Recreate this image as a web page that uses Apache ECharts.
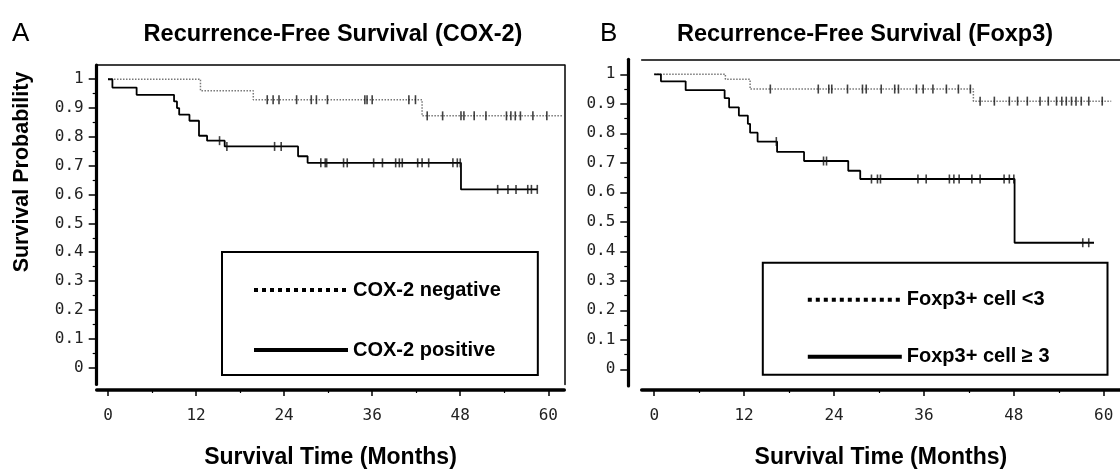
<!DOCTYPE html>
<html>
<head>
<meta charset="utf-8">
<script src="https://cdn.jsdelivr.net/npm/echarts@6/dist/echarts.min.js"></script>
<style>
  html, body { margin: 0; padding: 0; background: #fff; }
  #main { width: 1120px; height: 474px; }
</style>
</head>
<body>
<div id="main"></div>
<script>
// axis ticks (months / probability)
var xTicks = [0, 12, 24, 36, 48, 60];
var xMinorTicks = [6, 18, 30, 42, 54];
var yTicks = [0, 0.1, 0.2, 0.3, 0.4, 0.5, 0.6, 0.7, 0.8, 0.9, 1];
var yTickLabels = ['0', '0.1', '0.2', '0.3', '0.4', '0.5', '0.6', '0.7', '0.8', '0.9', '1'];
var yMinorTicks = [0.05, 0.15, 0.25, 0.35, 0.45, 0.55, 0.65, 0.75, 0.85, 0.95];

// A: COX-2
var coxNegTime = [0, 12.6, 19.8, 42.8, 61.9];
var coxNegSurv = [1, 0.96, 0.929, 0.873, 0.873];
var coxNegCensor = [21.7, 22.5, 23.3, 25.7, 27.7, 28.4, 29.9, 35.0, 35.3, 36.0, 41.0, 41.9,
  43.5, 45.6, 48.1, 48.5, 49.9, 51.5, 54.3, 54.9, 55.5, 56.2, 57.9, 59.8];

var coxPosTime = [0, 0.6, 3.9, 9.0, 9.4, 9.7, 11.1, 12.4, 13.5, 15.9, 25.9, 27.2, 48.1, 58.5];
var coxPosSurv = [1, 0.971, 0.946, 0.923, 0.9, 0.877, 0.856, 0.804, 0.787, 0.767, 0.733, 0.71, 0.618, 0.618];
var coxPosCensor = [15.2, 16.2, 22.7, 23.6, 29.0, 29.6, 29.8, 32.1, 32.6, 36.2, 37.4, 39.2, 39.7, 40.1,
  42.2, 42.8, 43.7, 47.0, 47.6, 48.0, 53.1, 54.5, 55.6, 57.2, 57.7, 58.5];

// B: Foxp3
var foxLowTime = [0, 9.5, 12.8, 42.6, 61];
var foxLowSurv = [1, 0.983, 0.95, 0.909, 0.909];
var foxLowCensor = [15.5, 21.9, 23.3, 23.7, 25.8, 27.8, 28.3, 30.3, 32.1, 32.6, 35.0, 35.9, 37.2, 39.0,
  40.6, 42.2, 43.5, 45.4, 47.4, 48.5, 49.8, 51.5, 52.6, 53.7, 54.4, 55.0, 55.7, 56.3, 57.0, 58.0, 59.8];

var foxHighTime = [0, 0.9, 4.2, 9.4, 10.0, 11.3, 12.5, 12.8, 13.8, 16.4, 20.0, 25.9, 27.5, 48.1, 58.7];
var foxHighSurv = [1, 0.976, 0.946, 0.919, 0.888, 0.86, 0.832, 0.802, 0.772, 0.737, 0.706, 0.673, 0.645, 0.429, 0.429];
var foxHighCensor = [16.3, 22.6, 23.0, 29.0, 29.8, 30.2, 35.2, 36.3, 39.4, 40.0, 40.7, 42.4, 43.5,
  46.7, 47.4, 48.0, 57.2, 58.0];

var legendA = ['COX-2 negative', 'COX-2 positive'];
var legendB = ['Foxp3+ cell <3', 'Foxp3+ cell \u2265 3'];

var sansFont = 'Liberation Sans, Arial, sans-serif';
var monoFont = 'DejaVu Sans Mono, monospace';

function stepData(times, survs) {
  return times.map(function (t, i) { return [t, survs[i]]; });
}
function survAt(times, survs, t) {
  var s = survs[0];
  for (var i = 0; i < times.length; i++) {
    if (times[i] <= t) s = survs[i];
  }
  return s;
}
function censorData(times, survs, censor) {
  return censor.map(function (t) { return [t, survAt(times, survs, t)]; });
}

function curve(name, gi, times, survs, dotted) {
  return {
    name: name,
    type: 'line',
    step: 'end',
    xAxisIndex: gi * 3,
    yAxisIndex: gi * 3,
    symbol: 'none',
    data: stepData(times, survs),
    lineStyle: dotted ? { color: '#777', width: 1.5, type: 'dotted' } : { color: '#000', width: 1.8 },
    itemStyle: { color: '#000' },
    z: 3
  };
}
function marks(gi, times, survs, censor) {
  return {
    type: 'scatter',
    xAxisIndex: gi * 3,
    yAxisIndex: gi * 3,
    symbol: 'rect',
    symbolSize: [1.6, 9],
    itemStyle: { color: '#111' },
    data: censorData(times, survs, censor),
    z: 4
  };
}

function xAxes(gi, min, max, offset) {
  return [
    {
      gridIndex: gi, type: 'value', position: 'bottom', min: min, max: max, offset: offset,
      name: 'Survival Time (Months)', nameLocation: 'middle', nameGap: 56,
      nameTextStyle: { fontFamily: sansFont, fontWeight: 'bold', fontSize: 23, color: '#000' },
      axisLine: { show: true, onZero: false, lineStyle: { color: '#000', width: 3.5 } },
      axisTick: { show: true, customValues: xTicks, length: 6, lineStyle: { color: '#000', width: 1.5 } },
      axisLabel: { show: true, customValues: xTicks, margin: 18, fontFamily: monoFont, fontSize: 16, color: '#222' },
      splitLine: { show: false }
    },
    {
      gridIndex: gi, type: 'value', position: 'bottom', min: min, max: max, offset: offset,
      axisLine: { show: false, onZero: false },
      axisTick: { show: true, customValues: xMinorTicks, length: 3, lineStyle: { color: '#000', width: 1.2 } },
      axisLabel: { show: false },
      splitLine: { show: false }
    },
    {
      gridIndex: gi, type: 'value', position: 'top', min: min, max: max,
      axisLine: { show: true, onZero: false, lineStyle: { color: '#000', width: 1.5 } },
      axisTick: { show: false }, axisLabel: { show: false }, splitLine: { show: false }
    }
  ];
}
function yAxes(gi, min, max, offset, rightBorder) {
  return [
    {
      gridIndex: gi, type: 'value', position: 'left', min: min, max: max, offset: offset,
      axisLine: { show: true, onZero: false, lineStyle: { color: '#000', width: 3.2 } },
      axisTick: { show: true, customValues: yTicks, length: 8, lineStyle: { color: '#000', width: 1.5 } },
      axisLabel: {
        show: true, customValues: yTicks, margin: 13, fontFamily: monoFont, fontSize: 16, color: '#222',
        formatter: function (v) {
          var i = yTicks.findIndex(function (t) { return Math.abs(t - v) < 1e-6; });
          return i >= 0 ? yTickLabels[i] : '';
        }
      },
      splitLine: { show: false }
    },
    {
      gridIndex: gi, type: 'value', position: 'left', min: min, max: max, offset: offset,
      axisLine: { show: false, onZero: false },
      axisTick: { show: true, customValues: yMinorTicks, length: 4, lineStyle: { color: '#000', width: 1.2 } },
      axisLabel: { show: false }, splitLine: { show: false }
    },
    {
      gridIndex: gi, type: 'value', position: 'right', min: min, max: max,
      axisLine: { show: rightBorder, onZero: false, lineStyle: { color: '#000', width: 1.5 } },
      axisTick: { show: false }, axisLabel: { show: false }, splitLine: { show: false }
    }
  ];
}

function legendOf(names, left, top, padding, gap) {
  var hidden = { color: 'rgba(0,0,0,0)', opacity: 0, borderWidth: 0 };
  return {
    orient: 'vertical', left: left, top: top, padding: padding, itemGap: gap,
    itemWidth: 94, itemHeight: 20, selectedMode: false,
    borderColor: '#000', borderWidth: 2,
    textStyle: { fontFamily: sansFont, fontWeight: 'bold', fontSize: 20, color: '#000', lineHeight: 20 },
    data: [
      { name: names[0], itemStyle: hidden, lineStyle: { color: '#000', width: 4, type: 'dotted' } },
      { name: names[1], itemStyle: hidden, lineStyle: { color: '#000', width: 4, type: 'solid' } }
    ]
  };
}

var myChart = echarts.init(document.getElementById('main'));

var option = {
  animation: false,
  backgroundColor: '#fff',
  title: [
    { text: 'A', left: 7, top: 16, textStyle: { fontFamily: sansFont, fontWeight: 'normal', fontSize: 26, color: '#000' } },
    { text: 'Recurrence-Free Survival (COX-2)', left: 328, top: 18, textAlign: 'center',
      textStyle: { fontFamily: sansFont, fontWeight: 'bold', fontSize: 23.5, color: '#000' } },
    { text: 'B', left: 595, top: 16, textStyle: { fontFamily: sansFont, fontWeight: 'normal', fontSize: 26, color: '#000' } },
    { text: 'Recurrence-Free Survival (Foxp3)', left: 860, top: 18, textAlign: 'center',
      textStyle: { fontFamily: sansFont, fontWeight: 'bold', fontSize: 23.5, color: '#000' } }
  ],
  graphic: [
    {
      type: 'text', x: 22, y: 172, rotation: Math.PI / 2,
      style: { text: 'Survival Probability', fontFamily: sansFont, fontWeight: 'bold', fontSize: 21.5,
        fill: '#000', align: 'center', verticalAlign: 'middle' }
    }
  ],
  grid: [
    { left: 96.7, top: 65, width: 467.6, height: 321 },
    { left: 641.7, top: 59.3, width: 490, height: 326.7 }
  ],
  xAxis: xAxes(0, -1.54, 62.18, 5.5).concat(xAxes(1, -1.668, 62.17, 4)),
  yAxis: yAxes(0, -0.0587, 1.0494, 0, true).concat(yAxes(1, -0.0566, 1.0508, 13.4, false)),
  legend: [
    legendOf(legendA, 222, 252, [28, 37, 15, 30], 40),
    legendOf(legendB, 762.8, 262.7, [27, 58, 8, 43], 37)
  ],
  series: [
    curve(legendA[0], 0, coxNegTime, coxNegSurv, true),
    curve(legendA[1], 0, coxPosTime, coxPosSurv, false),
    marks(0, coxNegTime, coxNegSurv, coxNegCensor),
    marks(0, coxPosTime, coxPosSurv, coxPosCensor),
    curve(legendB[0], 1, foxLowTime, foxLowSurv, true),
    curve(legendB[1], 1, foxHighTime, foxHighSurv, false),
    marks(1, foxLowTime, foxLowSurv, foxLowCensor),
    marks(1, foxHighTime, foxHighSurv, foxHighCensor)
  ]
};

myChart.setOption(option);
</script>
</body>
</html>
